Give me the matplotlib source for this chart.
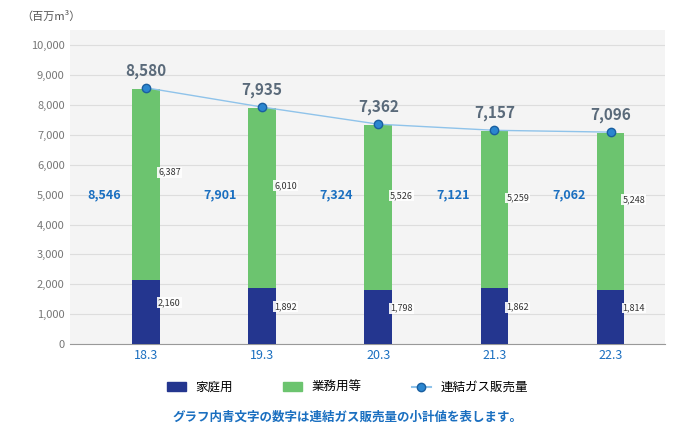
import matplotlib
matplotlib.use("Agg")
import matplotlib.pyplot as plt
import numpy as np
from matplotlib.patches import Patch
from matplotlib.lines import Line2D

plt.rcParams["font.family"] = ["Noto Sans CJK JP"]

categories = ["18.3", "19.3", "20.3", "21.3", "22.3"]
household = [2160, 1892, 1798, 1862, 1814]
business = [6387, 6010, 5526, 5259, 5248]
subtotal = [8546, 7901, 7324, 7121, 7062]
consolidated = [8580, 7935, 7362, 7157, 7096]

fig = plt.figure(figsize=(6.95, 4.48), dpi=100)
ax = fig.add_axes([0.10, 0.232, 0.857, 0.70])
ax.set_facecolor("#f4f4f4")
x = np.arange(len(categories))
w = 0.24
ax.bar(x, household, w, color="#24368f", zorder=3)
ax.bar(x, business, w, bottom=household, color="#6cc46f", zorder=3)
ax.plot(x, consolidated, color="#8fc3ea", lw=1, marker="o", ms=6,
        mfc="#2b86d0", mec="#1a5fa0", zorder=4)
for i in x:
    ax.text(i, consolidated[i] + 300, f"{consolidated[i]:,}", ha="center", va="bottom",
            fontsize=11, fontweight="bold", color="#5a6a7a")
    ax.text(i - 0.36, 5000, f"{subtotal[i]:,}", ha="center", va="center",
            fontsize=9, fontweight="bold", color="#1a6fc0")
    ax.text(i + 0.2, household[i] + business[i] / 2 + 400, f"{business[i]:,}", ha="center",
            va="center", fontsize=6.5, color="#333",
            bbox=dict(boxstyle="square,pad=0.1", fc="white", ec="none", alpha=0.9), zorder=5)
    ax.text(i + 0.2, household[i] / 2 + 300, f"{household[i]:,}", ha="center",
            va="center", fontsize=6.5, color="#333",
            bbox=dict(boxstyle="square,pad=0.1", fc="white", ec="none", alpha=0.9), zorder=5)

ax.set_xlim(-0.66, 4.47)
ax.set_ylim(0, 10500)
ax.set_yticks(range(0, 10001, 1000))
ax.set_yticklabels([f"{v:,}" for v in range(0, 10001, 1000)], fontsize=8, color="#777")
ax.set_xticks(x)
ax.set_xticklabels(categories, fontsize=9, color="#1a6fc0")
ax.grid(axis="y", color="#dddddd", lw=0.8, zorder=0)
for s in ["top", "right", "left"]:
    ax.spines[s].set_visible(False)
ax.spines["bottom"].set_color("#999")
ax.tick_params(length=0)
fig.text(0.03, 0.955, "（百万m³）", fontsize=8, color="#555")

handles = [Patch(color="#24368f"), Patch(color="#6cc46f"),
           Line2D([], [], color="#8fc3ea", marker="o", mfc="#2b86d0", mec="#1a5fa0")]
fig.legend(handles, ["家庭用", "業務用等", "連結ガス販売量"], loc="center",
           bbox_to_anchor=(0.5, 0.135), ncol=3, frameon=False, fontsize=9,
           columnspacing=4, handlelength=1.5)
fig.text(0.5, 0.06, "グラフ内青文字の数字は連結ガス販売量の小計値を表します。",
         ha="center", fontsize=9, fontweight="bold", color="#1a6fc0")
fig.savefig("out.png", dpi=100)
